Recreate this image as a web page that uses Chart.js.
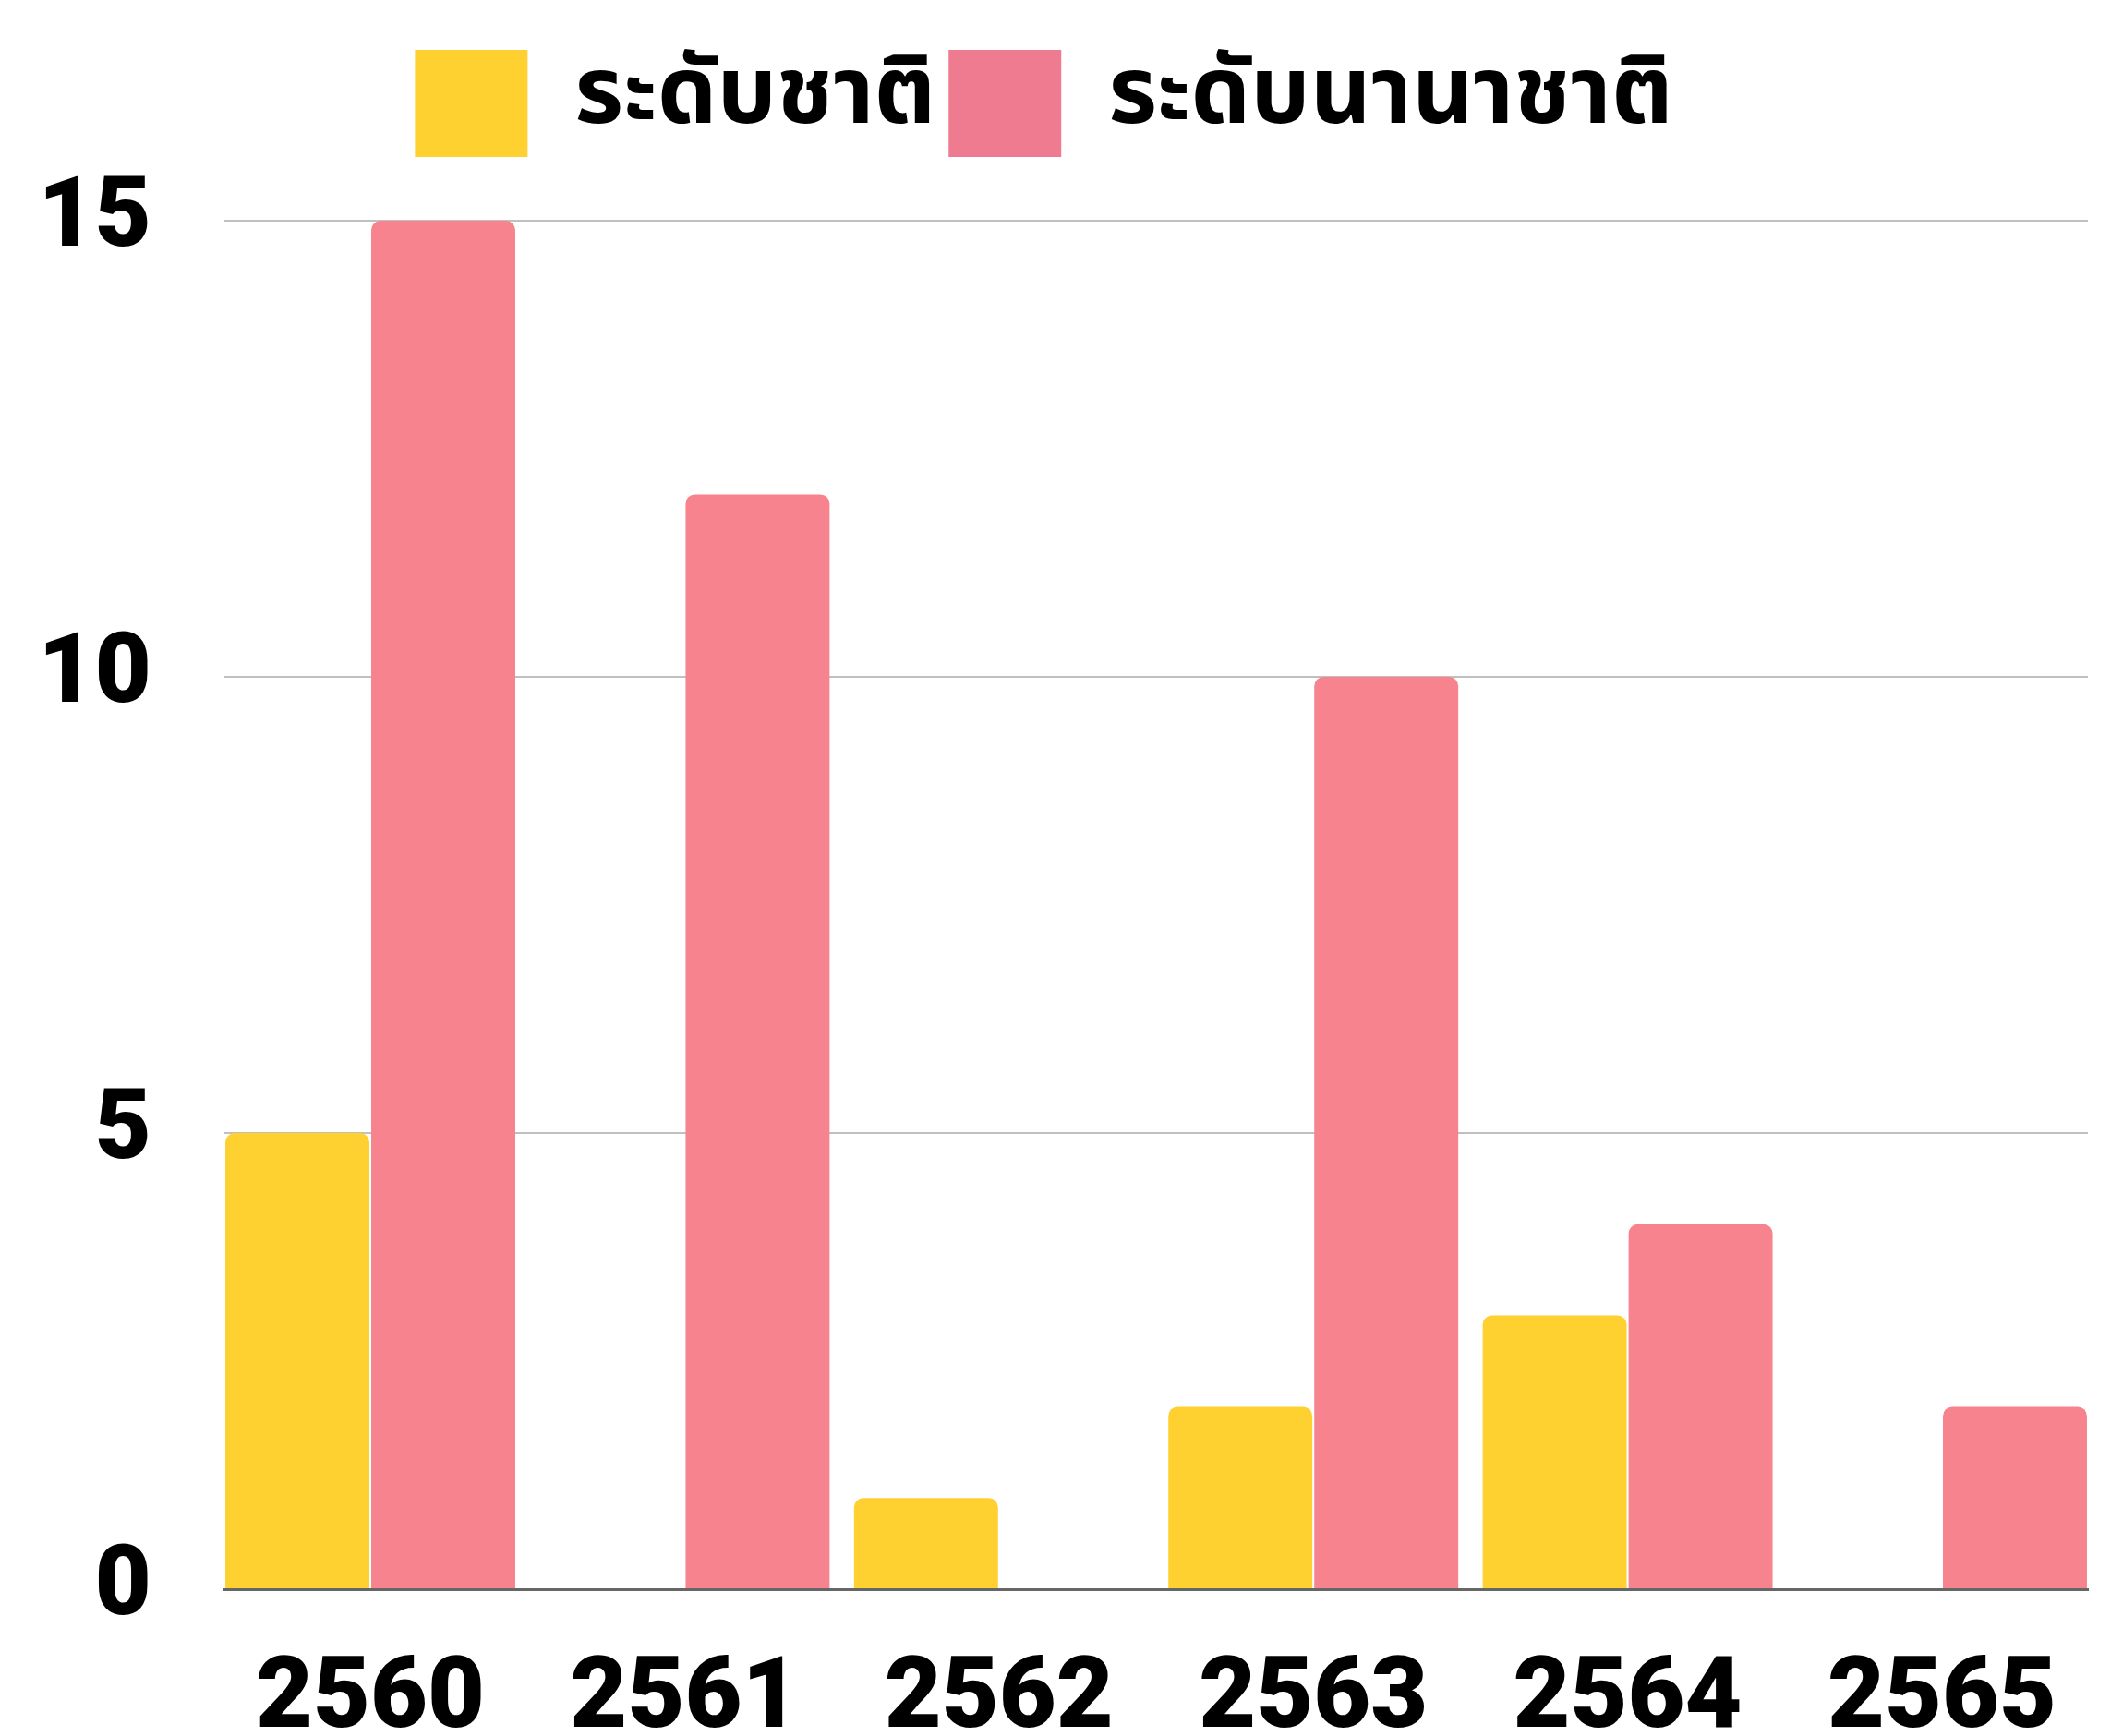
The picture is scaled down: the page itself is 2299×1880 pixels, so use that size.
<!DOCTYPE html>
<html>
<head>
<meta charset="utf-8">
<script src="https://cdn.jsdelivr.net/npm/chart.js@4"></script>
<style>
  html, body { margin: 0; padding: 0; background: #fff; }
  #wrap { width: 2299px; height: 1880px; }
</style>
</head>
<body>
<div id="wrap"><canvas id="awardChart"></canvas></div>
<script>
// Data
const years = ['2560', '2561', '2562', '2563', '2564', '2565'];
const nationalLevel = [5, 0, 1, 2, 3, 0];
const internationalLevel = [15, 12, 0, 10, 4, 2];
const seriesNames = ['ระดับชาติ', 'ระดับนานาชาติ'];
const yTickValues = [0, 5, 10, 15];

// Colours
const barColors = ['#FED130', '#F6838D'];
const legendColors = ['#FED130', '#EE7B8F'];

const digitFont = "'Roboto', 'Liberation Sans', sans-serif";
const thaiFont = "'Noto Sans Thai', 'Noto Sans', 'DejaVu Sans', sans-serif";

// bars sit flush with both ends of the plot, so the index axis is linear
const EDGE = 0.4642;

function toPoints(values) {
    return values.map((v, i) => ({ x: i, y: v }));
}

// extra room under the legend row
const legendGap = {
    id: 'legendGap',
    afterInit(chart) {
        const fit = chart.legend.fit;
        chart.legend.fit = function () {
            fit.call(this);
            this.height += 59;
        };
    }
};

const ctx = document.getElementById('awardChart').getContext('2d');

new Chart(ctx, {
    type: 'bar',
    data: {
        datasets: [
            {
                label: seriesNames[0],
                data: toPoints(nationalLevel),
                backgroundColor: barColors[0],
                borderRadius: { topLeft: 10, topRight: 10 },
                borderSkipped: 'bottom'
            },
            {
                label: seriesNames[1],
                data: toPoints(internationalLevel),
                backgroundColor: barColors[1],
                borderRadius: { topLeft: 10, topRight: 10 },
                borderSkipped: 'bottom'
            }
        ]
    },
    options: {
        responsive: true,
        maintainAspectRatio: false,
        animation: false,
        layout: { padding: { top: 40, right: 38, left: 0, bottom: 0 } },
        datasets: {
            bar: { categoryPercentage: 0.9283, barPercentage: 0.987 }
        },
        plugins: {
            tooltip: { enabled: false },
            legend: {
                position: 'top',
                labels: {
                    boxWidth: 122,
                    boxHeight: 116,
                    padding: 14,
                    color: '#000',
                    font: { size: 102, weight: 'bold', family: thaiFont },
                    generateLabels: function (chart) {
                        const items = Chart.defaults.plugins.legend.labels.generateLabels(chart);
                        items.forEach((it, i) => {
                            it.fillStyle = legendColors[i];
                            it.strokeStyle = legendColors[i];
                            it.lineWidth = 0;
                        });
                        return items;
                    }
                }
            }
        },
        scales: {
            x: {
                type: 'linear',
                offset: false,
                min: -EDGE,
                max: years.length - 1 + EDGE,
                grid: { display: false, drawTicks: false, offset: false },
                border: { display: true, color: '#666666', width: 3 },
                ticks: {
                    stepSize: 1,
                    includeBounds: false,
                    autoSkip: false,
                    maxRotation: 0,
                    padding: 58,
                    color: '#000',
                    font: { size: 107, weight: '900', family: digitFont },
                    callback: (v) => years[v] !== undefined ? years[v] : ''
                },
                afterFit: (s) => { s.height = 159; }
            },
            y: {
                min: 0,
                max: 15,
                grid: { color: '#c0c0c0', lineWidth: 2, drawTicks: false },
                border: { display: false },
                afterBuildTicks: (s) => { s.ticks = yTickValues.map(v => ({ value: v })); },
                ticks: {
                    padding: 79,
                    color: '#000',
                    font: { size: 106, weight: '900', family: digitFont }
                },
                afterFit: (s) => { s.width = 243; }
            }
        }
    },
    plugins: [legendGap]
});
</script>
</body>
</html>
